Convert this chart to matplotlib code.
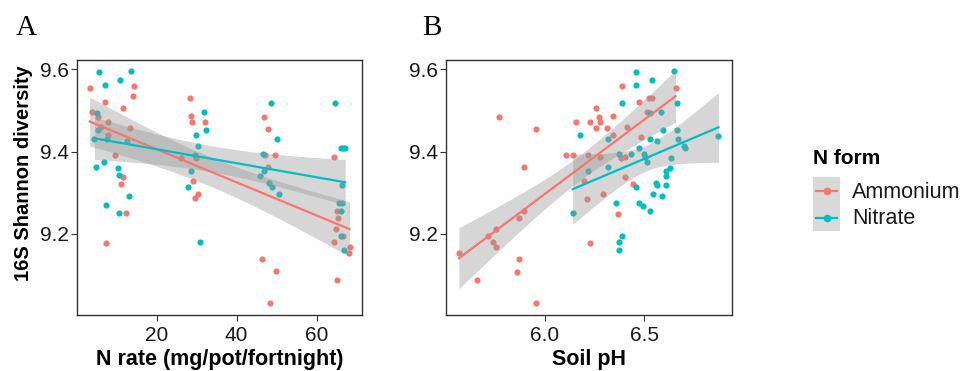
import numpy as np
import matplotlib
matplotlib.use("Agg")
import matplotlib.pyplot as plt

plt.rcParams['font.family'] = ['Liberation Sans', 'DejaVu Sans']

RED = '#F8766D'
TEAL = '#00BFC4'

# Panel A: N rate vs Shannon diversity
a_amm_x = [3.3, 3.9, 5.4, 7.25, 7.9, 6.1, 7.9, 9.6, 7.3, 11.7, 13.4, 14.2, 14.3, 11.7, 11.1, 12.5,
           28.25, 28.5, 28.8, 32.0, 26.0, 29.8, 29.2, 30.3, 29.7,
           46.8, 47.75, 47.1, 49.6, 47.9, 46.25, 49.8, 48.3,
           64.3, 65.0, 64.8, 64.3, 66.5, 68.2, 68.1, 65.0, 65.2]
a_amm_y = [9.554, 9.496, 9.485, 9.521, 9.473, 9.461, 9.44, 9.392, 9.178, 9.507, 9.458, 9.536, 9.559, 9.338, 9.321, 9.25,
           9.530, 9.487, 9.473, 9.473, 9.385, 9.384, 9.329, 9.297, 9.287,
           9.485, 9.456, 9.392, 9.392, 9.364, 9.140, 9.109, 9.033,
           9.386, 9.255, 9.211, 9.18, 9.194, 9.169, 9.154, 9.089, 9.24]
a_nit_x = [5.75, 7.25, 10.8, 13.7, 5.2, 5.4, 4.5, 4.8, 6.9, 10.5, 10.6, 13.2, 7.5, 10.75, 7.75, 12.6,
           31.8, 32.3, 29.9, 30.25, 28.5, 27.9, 30.8, 29.5,
           48.6, 50.1, 46.6, 45.9, 48.0, 48.9, 50.7, 46.8,
           64.6, 66.1, 67.1, 66.5, 66.3, 66.25, 66.1, 66.1, 66.7, 65.5]
a_nit_y = [9.593, 9.562, 9.574, 9.596, 9.493, 9.453, 9.432, 9.364, 9.375, 9.361, 9.343, 9.293, 9.27, 9.252, 9.431, 9.426,
           9.496, 9.453, 9.441, 9.413, 9.352, 9.315, 9.18, 9.392,
           9.519, 9.430, 9.395, 9.34, 9.324, 9.313, 9.296, 9.354,
           9.519, 9.41, 9.41, 9.41, 9.318, 9.276, 9.255, 9.194, 9.16, 9.276]

# Panel B: soil pH vs Shannon diversity
b_amm_x = [5.567, 5.656, 5.753, 5.74, 5.753, 5.715, 5.77, 5.87, 5.894, 5.894, 5.87, 5.86, 5.955, 5.955,
           6.104, 6.139, 6.156, 6.218, 6.198, 6.211, 6.228, 6.226, 6.258, 6.27, 6.276, 6.258, 6.277, 6.289,
           6.31, 6.34, 6.34, 6.369, 6.389, 6.38, 6.40, 6.414, 6.40, 6.441, 6.473, 6.483, 6.512, 6.523, 6.54, 6.656]
b_amm_y = [9.154, 9.089, 9.211, 9.18, 9.168, 9.195, 9.484, 9.24, 9.255, 9.364, 9.14, 9.108, 9.456, 9.033,
           9.392, 9.392, 9.473, 9.392, 9.329, 9.286, 9.177, 9.473, 9.507, 9.484, 9.473, 9.458, 9.386, 9.297,
           9.458, 9.487, 9.44, 9.249, 9.559, 9.384, 9.386, 9.461, 9.338, 9.321, 9.521, 9.436, 9.496, 9.530, 9.530, 9.554]
b_nit_x = [6.139, 6.174, 6.215, 6.317, 6.317, 6.372, 6.43, 6.359, 6.389, 6.389, 6.37, 6.37, 6.455, 6.455,
           6.473, 6.456, 6.473, 6.49, 6.5, 6.505, 6.513, 6.53, 6.53, 6.54, 6.545, 6.56, 6.563, 6.563,
           6.584, 6.587, 6.592, 6.606, 6.606, 6.606, 6.63, 6.634, 6.646, 6.661, 6.663, 6.666, 6.701, 6.706, 6.872, 6.53]
b_nit_y = [9.252, 9.441, 9.352, 9.430, 9.364, 9.395, 9.395, 9.275, 9.519, 9.195, 9.18, 9.16, 9.593, 9.562,
           9.41, 9.313, 9.275, 9.269, 9.395, 9.386, 9.375, 9.432, 9.255, 9.574, 9.296, 9.324, 9.318, 9.425,
           9.496, 9.292, 9.453, 9.352, 9.34, 9.318, 9.361, 9.384, 9.596, 9.453, 9.519, 9.43, 9.413, 9.41, 9.438, 9.494]


def lm_band(ax, x, y, color):
    # linear fit with 95% confidence band, like geom_smooth(method="lm")
    x = np.asarray(x)
    y = np.asarray(y)
    n = len(x)
    b, a = np.polyfit(x, y, 1)
    xs = np.linspace(x.min(), x.max(), 80)
    fit = a + b * xs
    resid = y - (a + b * x)
    s = np.sqrt(np.sum(resid ** 2) / (n - 2))
    se = s * np.sqrt(1 / n + (xs - x.mean()) ** 2 / np.sum((x - x.mean()) ** 2))
    t = 2.02
    ax.fill_between(xs, fit - t * se, fit + t * se, color='#999999', alpha=0.4, lw=0, zorder=3)
    ax.plot(xs, fit, color=color, lw=1.6, zorder=4)


fig = plt.figure(figsize=(9.66, 3.71), dpi=100)
W, H = 966, 371


def make_ax(left, right, top=60, bottom=315):
    return fig.add_axes([left / W, 1 - bottom / H, (right - left) / W, (bottom - top) / H])


axA = make_ax(77, 362)
axB = make_ax(446, 732)

axA.scatter(a_amm_x, a_amm_y, s=20, color=RED, lw=0, zorder=2)
axA.scatter(a_nit_x, a_nit_y, s=20, color=TEAL, lw=0, zorder=2)
lm_band(axA, a_amm_x, a_amm_y, RED)
lm_band(axA, a_nit_x, a_nit_y, TEAL)

axB.scatter(b_amm_x, b_amm_y, s=20, color=RED, lw=0, zorder=2)
axB.scatter(b_nit_x, b_nit_y, s=20, color=TEAL, lw=0, zorder=2)
lm_band(axB, b_amm_x, b_amm_y, RED)
lm_band(axB, b_nit_x, b_nit_y, TEAL)

axA.set_xlim(0.15, 71.3)
axA.set_xticks([20, 40, 60])
axB.set_xlim(5.502, 6.94)
axB.set_xticks([6.0, 6.5])
axB.set_xticklabels(['6.0', '6.5'])

for ax in (axA, axB):
    ax.set_ylim(9.003, 9.623)
    ax.set_yticks([9.2, 9.4, 9.6])
    ax.set_yticklabels(['9.2', '9.4', '9.6'])
    for sp in ax.spines.values():
        sp.set_color('#333333')
        sp.set_linewidth(1.0)
    ax.tick_params(direction='out', length=4, width=0.8, color='#333333',
                   labelsize=15, labelcolor='#1a1a1a', pad=2)
    ax.tick_params(axis='x', pad=4)

axA.set_xlabel('N rate (mg/pot/fortnight)', fontsize=15.5, fontweight='bold', labelpad=3)
axB.set_xlabel('Soil pH', fontsize=15.5, fontweight='bold', labelpad=3)
axA.set_ylabel('16S Shannon diversity', fontsize=14.5, fontweight='bold')
axA.yaxis.set_label_coords(-0.155, 0.557)

fig.text(16 / W, 1 - 28 / H, 'A', family='Liberation Serif', fontsize=21, va='center', ha='left')
fig.text(422 / W, 1 - 28 / H, 'B', family='Liberation Serif', fontsize=21, va='center', ha='left')

# legend
fig.text(813 / W, 1 - 158 / H, 'N form', fontsize=15, fontweight='bold', va='center', ha='left')
axL = fig.add_axes([813 / W, 1 - 231 / H, 27 / W, 54 / H])
axL.set_facecolor('#d9d9d9')
axL.set_xlim(0, 1)
axL.set_ylim(0, 2)
for yy, c in [(1.5, RED), (0.5, TEAL)]:
    axL.plot([0.1, 0.9], [yy, yy], color=c, lw=1.6)
    axL.plot([0.5], [yy], 'o', color=c, ms=4.5)
axL.set_xticks([])
axL.set_yticks([])
for sp in axL.spines.values():
    sp.set_visible(False)
fig.text(852 / W, 1 - 192 / H, 'Ammonium', fontsize=15.5, va='center', ha='left', color='#1a1a1a')
fig.text(852 / W, 1 - 219 / H, 'Nitrate', fontsize=15.5, va='center', ha='left', color='#1a1a1a')

fig.savefig('out.png', dpi=100)
